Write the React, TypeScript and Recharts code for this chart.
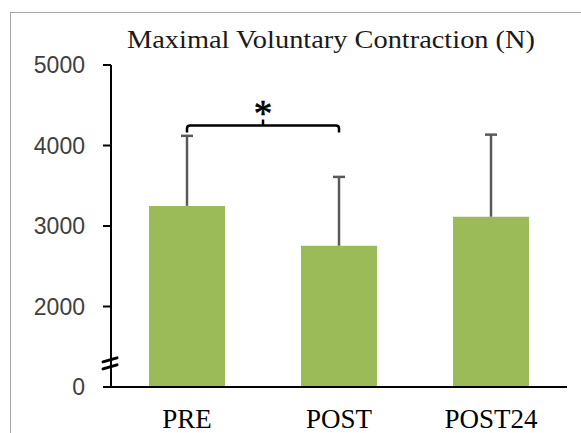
import { Bar, BarChart, ReferenceLine, XAxis, YAxis } from 'recharts';

const W = 581;
const H = 433;

// values between 0 and 2000 are cut out of the axis (the break mark)
const BREAK_CUT = 1000;

const categories = ['PRE', 'POST', 'POST24'];
const means = [3250, 2755, 3115];
const sds = [870, 855, 1020];

const yTicks = [0, 2000, 3000, 4000, 5000];
const breakAt = 300; // shifted value where the axis break mark sits
const bracketY = 4250;

const data = categories.map((name, i) => ({
  name,
  mean: means[i] - BREAK_CUT,
  err: sds[i],
}));

const toAxis = (v: number) => (v === 0 ? 0 : v - BREAK_CUT);
const fromAxis = (v: number) => (v === 0 ? 0 : v + BREAK_CUT);

const TICK_MARGIN = 18;

function YTick(props: any) {
  const { x, y, payload } = props;
  const axisX = x + 8 + TICK_MARGIN;
  if (payload.value === breakAt) {
    return (
      <g stroke="#000" strokeWidth={3} strokeLinecap="round">
        <line x1={axisX - 8} y1={y - 1} x2={axisX + 6} y2={y - 5} />
        <line x1={axisX - 8} y1={y + 6} x2={axisX + 6} y2={y + 2} />
      </g>
    );
  }
  return (
    <g>
      <line x1={axisX - 8} y1={y} x2={axisX} y2={y} stroke="#000" strokeWidth={2} />
      <text
        x={x}
        y={y}
        textAnchor="end"
        dominantBaseline="central"
        fontSize={23}
        fontFamily="'Liberation Sans', Arial, sans-serif"
        fill="#404040"
      >
        {fromAxis(payload.value)}
      </text>
    </g>
  );
}

function ErrorShape(props: any) {
  const { x, y, width, height } = props;
  const cx = x + width / 2;
  return (
    <g stroke="#595959" strokeWidth={2.5}>
      <line x1={cx} y1={y + height} x2={cx} y2={y} />
      <line x1={cx - 6} y1={y} x2={cx + 6} y2={y} />
    </g>
  );
}

function Bracket(props: any) {
  const { x1, y1, x2 } = props;
  const mid = (x1 + x2) / 2;
  const drop = 7;
  const r = 3;
  return (
    <g>
      <path
        d={`M${x1},${y1 + drop} L${x1},${y1 + r} Q${x1},${y1} ${x1 + r},${y1} L${x2 - r},${y1} Q${x2},${y1} ${x2},${y1 + r} L${x2},${y1 + drop} M${mid},${y1} L${mid},${y1 - 6}`}
        fill="none"
        stroke="#000"
        strokeWidth={2.5}
      />
      <text
        x={mid}
        y={y1 + 1}
        textAnchor="middle"
        fontSize={37}
        fontFamily="'Liberation Serif', 'Times New Roman', serif"
        fill="#000"
        stroke="#000"
        strokeWidth={0.6}
      >
        *
      </text>
    </g>
  );
}

export default function App() {
  return (
    <div style={{ position: 'absolute', left: 0, top: 0, width: W, height: H, background: '#fff', overflow: 'hidden' }}>
      <div
        style={{
          position: 'absolute',
          left: 10,
          top: 12,
          width: W,
          height: H,
          borderTop: '1px solid #a6a6a6',
          borderLeft: '1px solid #a6a6a6',
        }}
      />
      <svg style={{ position: 'absolute', left: 0, top: 0 }} width={W} height={60}>
        <text
          x={331}
          y={47.5}
          textAnchor="middle"
          fontSize={25}
          textLength={408}
          lengthAdjust="spacingAndGlyphs"
          fontFamily="'Liberation Serif', 'Times New Roman', serif"
          fill="#1a1a1a"
        >
          Maximal Voluntary Contraction (N)
        </text>
      </svg>
      <div style={{ position: 'absolute', left: 0, top: 0 }}>
        <BarChart
          width={W}
          height={H}
          data={data}
          margin={{ top: 65, right: 14, left: 0, bottom: 0 }}
          barCategoryGap="25%"
        >
          <XAxis
            dataKey="name"
            height={46}
            tickLine={false}
            tickSize={8}
            tickMargin={14}
            axisLine={{ stroke: '#000', strokeWidth: 2 }}
            tick={{ fontSize: 27, fill: '#000', fontFamily: "'Liberation Serif', 'Times New Roman', serif" }}
          />
          <YAxis
            width={111}
            domain={[0, toAxis(5000)]}
            ticks={[toAxis(yTicks[0]), breakAt, ...yTicks.slice(1).map(toAxis)]}
            interval={0}
            tickLine={false}
            tickSize={8}
            tickMargin={TICK_MARGIN}
            axisLine={{ stroke: '#000', strokeWidth: 2 }}
            tick={<YTick />}
          />
          <Bar dataKey="mean" stackId="a" fill="#9bbb59" isAnimationActive={false} />
          <Bar dataKey="err" stackId="a" shape={<ErrorShape />} isAnimationActive={false} />
          <ReferenceLine
            segment={[
              { x: 'PRE', y: toAxis(bracketY) },
              { x: 'POST', y: toAxis(bracketY) },
            ]}
            shape={<Bracket />}
          />
        </BarChart>
      </div>
    </div>
  );
}
